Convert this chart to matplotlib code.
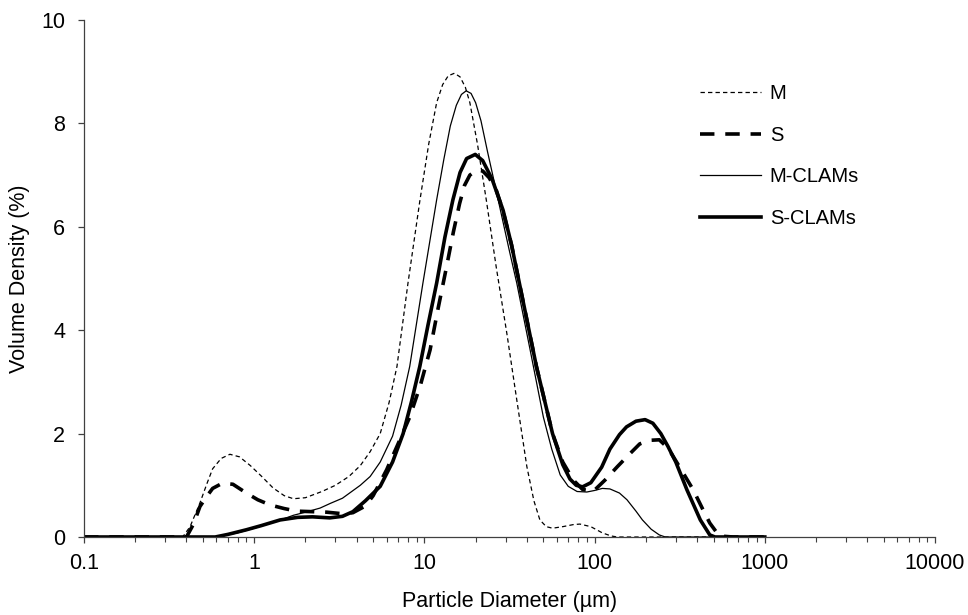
import matplotlib
matplotlib.use("Agg")
import matplotlib.pyplot as plt

plt.rcParams['font.family'] = ['Liberation Sans', 'DejaVu Sans']

# Particle size distributions (diameter in µm, volume density in %)
m_d = [0.1, 0.38, 0.42, 0.48, 0.53, 0.57, 0.64, 0.72, 0.82, 0.95, 1.1, 1.29, 1.5, 1.7, 2.0, 2.5,
       3.0, 3.6, 4.2, 4.8, 5.5, 6.2, 6.9, 8.0, 9.4, 10.6, 11.8, 12.8, 13.8, 15.0, 16.2, 17.4,
       18.5, 20.5, 23.1, 26.4, 30.5, 34.9, 40.0, 44.0, 47.7, 52.0, 56.6, 65.0, 75.0, 82.0,
       95.0, 111.0, 125.0, 136.0, 1000.0]
m_v = [0, 0, 0.2, 0.66, 1.05, 1.32, 1.52, 1.60, 1.55, 1.38, 1.18, 0.95, 0.80, 0.74, 0.76, 0.88,
       1.0, 1.17, 1.38, 1.65, 2.0, 2.6, 3.3, 4.9, 6.5, 7.6, 8.4, 8.75, 8.92, 8.97, 8.9, 8.7,
       8.4, 7.6, 6.52, 5.23, 3.94, 2.65, 1.36, 0.7, 0.33, 0.2, 0.17, 0.2, 0.24, 0.25,
       0.2, 0.08, 0.02, 0, 0]

s_d = [0.1, 0.40, 0.44, 0.48, 0.53, 0.57, 0.65, 0.75, 0.9, 1.05, 1.24, 1.5, 1.78, 2.2, 2.67, 3.3,
       3.8, 4.5, 5.0, 6.0, 7.0, 8.2, 9.5, 10.8, 12.0, 13.5, 14.8, 16.1, 17.2, 18.5, 20.3, 22.0,
       24.0, 26.5, 29.0, 32.5, 36.5, 45.5, 56.6, 65.0, 75.0, 85.0, 98.0, 115.0, 136.0, 160.0,
       184.0, 210.0, 240.0, 270.0, 315.0, 380.0, 430.0, 475.0, 540.0, 650.0, 1000.0]
s_v = [0, 0, 0.25, 0.59, 0.8, 0.94, 1.04, 1.02, 0.85, 0.72, 0.62, 0.55, 0.50, 0.49, 0.48, 0.45,
       0.47, 0.6, 0.8, 1.3, 1.8, 2.32, 2.95, 3.62, 4.4, 5.23, 5.9, 6.45, 6.8, 7.0, 7.10, 7.08,
       6.95, 6.7, 6.3, 5.65, 4.84, 3.30, 2.0, 1.45, 1.1, 0.92, 0.88, 1.1, 1.36, 1.6,
       1.8, 1.87, 1.88, 1.72, 1.36, 0.91, 0.55, 0.27, 0.02, 0, 0]

mc_d = [0.1, 0.6, 0.8, 1.0, 1.4, 1.7, 2.0, 2.44, 2.8, 3.3, 4.2, 4.8, 5.5, 6.5, 7.3, 8.2, 9.8, 11.8,
        13.0, 14.2, 15.4, 16.5, 17.6, 18.8, 20.0, 21.5, 23.5, 26.0, 28.5, 31.5, 34.9, 41.8, 50.0,
        56.0, 62.8, 70.0, 78.9, 90.0, 100.0, 111.0, 123.0, 140.0, 155.0, 175.0, 191.0, 215.0,
        240.0, 260.0, 1000.0]
mc_v = [0, 0, 0.08, 0.17, 0.32, 0.42, 0.48, 0.56, 0.65, 0.75, 1.0, 1.17, 1.45, 1.95, 2.55, 3.30,
        4.91, 6.52, 7.3, 7.95, 8.35, 8.56, 8.63, 8.58, 8.4, 8.05, 7.45, 6.8, 6.2, 5.55, 4.91,
        3.62, 2.32, 1.7, 1.2, 0.98, 0.88, 0.87, 0.9, 0.94, 0.93, 0.85, 0.72, 0.5, 0.33, 0.15,
        0.04, 0, 0]

sc_d = [0.1, 0.59, 0.7, 0.9, 1.1, 1.42, 1.8, 2.2, 2.78, 3.3, 3.8, 4.5, 5.5, 6.5, 7.5, 8.4, 9.4,
        10.5, 11.8, 13.2, 14.7, 16.2, 17.7, 19.9, 22.0, 25.0, 29.0, 32.5, 36.5, 45.5, 56.6, 65.0,
        71.7, 78.0, 85.0, 95.0, 110.0, 123.0, 140.0, 154.0, 175.0, 198.0, 220.0, 245.0, 270.0,
        300.0, 349.0, 418.0, 475.0, 510.0, 1000.0]
sc_v = [0, 0, 0.05, 0.14, 0.22, 0.33, 0.38, 0.39, 0.37, 0.40, 0.49, 0.7, 0.98, 1.45, 2.0, 2.62, 3.30,
        4.1, 4.91, 5.8, 6.52, 7.05, 7.32, 7.40, 7.28, 6.92, 6.32, 5.65, 4.84, 3.30, 2.0, 1.4,
        1.12, 1.0, 0.97, 1.05, 1.35, 1.7, 1.98, 2.13, 2.24, 2.27, 2.2, 2.0, 1.75,
        1.45, 0.91, 0.33, 0.04, 0, 0]

labels = ['M', 'S', 'M-CLAMs', 'S-CLAMs']
xticks = [0.1, 1, 10, 100, 1000, 10000]
xticklabels = ['0.1', '1', '10', '100', '1000', '10000']
yticks = [0, 2, 4, 6, 8, 10]

fig = plt.figure(figsize=(9.68, 6.15), dpi=100)
ax = fig.add_axes([84 / 968, 1 - 537 / 615, (935 - 84) / 968, (537 - 20) / 615])

ax.plot(m_d, m_v, color='black', lw=0.9, dashes=(3.5, 2.5), label=labels[0])
ax.plot(s_d, s_v, color='black', lw=2.6, dashes=(4.0, 3.0), label=labels[1])
ax.plot(mc_d, mc_v, color='black', lw=0.9, label=labels[2])
ax.plot(sc_d, sc_v, color='black', lw=2.6, label=labels[3])

ax.set_xscale('log')
ax.set_xlim(0.1, 10000)
ax.set_ylim(0, 10)
ax.set_xticks(xticks)
ax.set_xticklabels(xticklabels)
ax.set_yticks(yticks)

for s in ['top', 'right']:
    ax.spines[s].set_visible(False)
for s in ['left', 'bottom']:
    ax.spines[s].set_color('#404040')
    ax.spines[s].set_linewidth(0.9)

ax.tick_params(axis='both', which='major', direction='out', length=4.5, width=0.9,
               color='#404040', labelsize=15.5)
ax.tick_params(axis='x', which='major', pad=7)
ax.tick_params(axis='y', which='major', pad=9)
ax.tick_params(axis='x', which='minor', direction='out', length=3.5, width=0.8, color='#404040')

ax.set_xlabel('Particle Diameter (µm)', fontsize=15.5, labelpad=12)
ax.set_ylabel('Volume Density (%)', fontsize=15.5, labelpad=8)

leg = ax.legend(loc='upper left', bbox_to_anchor=(0.703, 0.911), frameon=False,
                fontsize=14.5, handlelength=3.0, handletextpad=0.45, labelspacing=1.12)

fig.savefig('out.png', dpi=100)
